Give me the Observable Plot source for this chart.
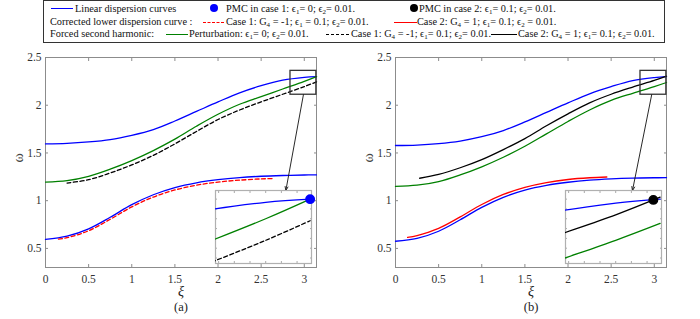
<!DOCTYPE html>
<html><head><meta charset="utf-8">
<script src="https://cdn.jsdelivr.net/npm/d3@7"></script>
<script src="https://cdn.jsdelivr.net/npm/@observablehq/plot@0.6"></script>
<style>
body{margin:0;background:#fff;font-family:"Liberation Serif","Times New Roman",serif;}
#root{position:relative;width:700px;height:319px;overflow:hidden;background:#fff}
#legend{position:absolute;left:43px;top:0px;width:620px;height:41px;border:1.4px solid #333;box-sizing:content-box}
.t{position:absolute;white-space:nowrap;font-size:10.3px;line-height:11px;height:11px;color:#111}
.t sub{font-size:7px;line-height:0;vertical-align:-2px}
.sw{position:absolute;height:0}
.dot{position:absolute;width:8px;height:8px;border-radius:50%}
.panel{position:absolute;top:47px;width:350px;height:272px}
.inset{position:absolute}
</style></head><body>
<div id="root">
  <div id="legend">
    <span class="sw" style="left:7px;top:7px;width:22px;border-top:1.4px solid #0000ff"></span>
    <span class="t" style="left:31px;top:2px">Linear dispersion curves</span>
    <span class="dot" style="left:166px;top:3px;background:#0000ff"></span>
    <span class="t" style="left:182px;top:2px">PMC in case 1: ϵ<sub>1</sub>= 0; ϵ<sub>2</sub>= 0.01.</span>
    <span class="dot" style="left:366px;top:3px;background:#000"></span>
    <span class="t" style="left:375px;top:2px">PMC in case 2: ϵ<sub>1</sub>= 0.1; ϵ<sub>2</sub>= 0.01.</span>

    <span class="t" style="left:6px;top:15px">Corrected lower dispersion curve :</span>
    <span class="sw" style="left:159px;top:21px;width:21px;border-top:1.4px dashed #ff0000"></span>
    <span class="t" style="left:182px;top:15px">Case 1: G<sub>4</sub> = -1; ϵ<sub>1</sub> = 0.1; ϵ<sub>2</sub>= 0.01.</span>
    <span class="sw" style="left:350px;top:21px;width:23px;border-top:1.4px solid #ff0000"></span>
    <span class="t" style="left:373px;top:15px">Case 2: G<sub>4</sub> = 1; ϵ<sub>1</sub>= 0.1; ϵ<sub>2</sub> = 0.01.</span>

    <span class="t" style="left:6px;top:27px">Forced second harmonic:</span>
    <span class="sw" style="left:122px;top:33px;width:22px;border-top:1.4px solid #008000"></span>
    <span class="t" style="left:145px;top:27px">Perturbation: ϵ<sub>1</sub>= 0; ϵ<sub>2</sub>= 0.01.</span>
    <span class="sw" style="left:282px;top:33px;width:23px;border-top:1.4px dashed #000"></span>
    <span class="t" style="left:307px;top:27px">Case 1: G<sub>4</sub> = -1; ϵ<sub>1</sub>= 0.1; ϵ<sub>2</sub>= 0.01.</span>
    <span class="sw" style="left:447px;top:33px;width:26px;border-top:1.4px solid #000"></span>
    <span class="t" style="left:474px;top:27px">Case 2: G<sub>4</sub> = 1; ϵ<sub>1</sub>= 0.1; ϵ<sub>2</sub>= 0.01.</span>
  </div>
  <div id="pa" class="panel" style="left:0px"></div>
  <div id="pb" class="panel" style="left:350px"></div>
</div>
<script>
// ---------- data ----------
const xi = [0, 0.25, 0.5, 0.75, 1.0, 1.25, 1.5, 1.75, 2.0, 2.25, 2.5, 2.75, 3.0, 3.1416];
const xTicks = [0, 0.5, 1, 1.5, 2, 2.5, 3];
const yTicks = [0.5, 1, 1.5, 2, 2.5];
const xDomain = [0, 3.1416];
const yDomain = [0.3, 2.5];

// panel (a)
const aUpper = [1.595, 1.600, 1.615, 1.640, 1.685, 1.745, 1.835, 1.935, 2.035, 2.130, 2.205, 2.262, 2.292, 2.300];
const aLower = [0.595, 0.628, 0.705, 0.826, 0.958, 1.062, 1.137, 1.187, 1.220, 1.242, 1.256, 1.264, 1.269, 1.270];
const aGreen = [1.195, 1.210, 1.255, 1.330, 1.420, 1.525, 1.645, 1.780, 1.905, 2.010, 2.090, 2.170, 2.250, 2.300];
const aRedXi = [0.15, 0.25, 0.5, 0.75, 1.0, 1.25, 1.5, 1.75, 2.0, 2.25, 2.5, 2.65];
const aRed   = [0.598, 0.612, 0.685, 0.805, 0.935, 1.038, 1.112, 1.162, 1.195, 1.215, 1.228, 1.232];
const aBlackXi = [0.25, 0.5, 0.75, 1.0, 1.25, 1.5, 1.75, 2.0, 2.25, 2.5, 2.75, 3.0, 3.1416];
const aBlack   = [1.185, 1.220, 1.290, 1.375, 1.475, 1.595, 1.725, 1.850, 1.950, 2.035, 2.115, 2.195, 2.245];
const aPmc = [3.1416, 2.300];

// panel (b)
const bUpper = [1.578, 1.583, 1.598, 1.625, 1.670, 1.735, 1.825, 1.925, 2.025, 2.120, 2.195, 2.258, 2.290, 2.300];
const bLower = [0.575, 0.605, 0.680, 0.800, 0.930, 1.035, 1.110, 1.160, 1.193, 1.215, 1.228, 1.236, 1.240, 1.241];
const bGreen = [1.150, 1.162, 1.200, 1.270, 1.355, 1.455, 1.570, 1.700, 1.830, 1.950, 2.050, 2.125, 2.195, 2.238];
const bRedXi = [0.14, 0.25, 0.5, 0.75, 1.0, 1.25, 1.5, 1.75, 2.0, 2.25, 2.45];
const bRed   = [0.615, 0.635, 0.710, 0.830, 0.960, 1.065, 1.140, 1.190, 1.222, 1.240, 1.248];
const bBlackXi = [0.28, 0.5, 0.75, 1.0, 1.25, 1.5, 1.75, 2.0, 2.25, 2.5, 2.75, 3.0, 3.1416];
const bBlack   = [1.235, 1.275, 1.345, 1.430, 1.535, 1.650, 1.785, 1.910, 2.025, 2.115, 2.190, 2.260, 2.305];
const bPmc = [3.12, 2.298];

// zoom annotation (data coordinates)
const zoomXi = [2.84, 3.14];
const zoomW = [2.11, 2.36];
const insetXi = [2.84, 3.146];
const insetW = [2.136, 2.322];
const insetBoxXi = [1.965, 3.08];
const insetBoxW = [0.34, 1.105];
const arrowXiA = [2.99, 2.786];
const arrowXiB = [2.97, 2.747];
const insetXTicks = [2.85, 2.9, 2.95, 3.0, 3.05, 3.1];
const insetYTicks = [2.15, 2.175, 2.2, 2.225, 2.25, 2.275, 2.3];

// ---------- drawing ----------
const BLUE = "#0000ff", GREEN = "#008000", RED = "#ff0000", BLACK = "#000000", AXIS = "#8c8c8c";
const FONT = '"Liberation Serif", "Times New Roman", serif';
const fmt = d => d3.format("~g")(d);
const pts = (xs, ys) => xs.map((x, i) => ({x, y: ys[i]}));

function panel(el, tag, d) {
  const series = [
    {data: pts(xi, d.upper), stroke: BLUE},
    {data: pts(xi, d.lower), stroke: BLUE},
    {data: pts(xi, d.green), stroke: GREEN},
    {data: pts(d.redXi, d.red), stroke: RED, dash: d.redDash},
    {data: pts(d.blackXi, d.black), stroke: BLACK, dash: d.blackDash}
  ];
  const lineMarks = (clip) => series.map(s => Plot.line(s.data, {
    x: "x", y: "y", stroke: s.stroke, strokeWidth: 1.3, curve: "catmull-rom",
    strokeDasharray: s.dash ? "4,2.5" : null, clip
  }));
  const plot = Plot.plot({
    width: 350, height: 272,
    marginTop: 10, marginBottom: 52, marginLeft: 45, marginRight: 34,
    style: {fontFamily: FONT, fontSize: "11.5px", color: "#333", background: "transparent", overflow: "visible"},
    x: {domain: xDomain, label: null},
    y: {domain: yDomain, label: null},
    marks: [
      Plot.axisX({anchor: "bottom", ticks: xTicks, tickSize: 0, tickPadding: 7, tickFormat: fmt, label: null, fontFamily: FONT}),
      Plot.axisY({anchor: "left", ticks: yTicks, tickSize: 0, tickPadding: 4, tickFormat: fmt, label: null, fontFamily: FONT}),
      Plot.axisX({anchor: "bottom", ticks: xTicks, tickSize: -3, stroke: AXIS, fill: "none", tickFormat: () => "", label: null}),
      Plot.axisX({anchor: "top", ticks: xTicks, tickSize: -3, stroke: AXIS, fill: "none", tickFormat: () => "", label: null}),
      Plot.axisY({anchor: "left", ticks: yTicks, tickSize: -3, stroke: AXIS, fill: "none", tickFormat: () => "", label: null}),
      Plot.axisY({anchor: "right", ticks: yTicks, tickSize: -3, stroke: AXIS, fill: "none", tickFormat: () => "", label: null}),
      Plot.frame({stroke: AXIS, strokeWidth: 1}),
      ...lineMarks(false),
      Plot.rect([0], {x1: () => zoomXi[0], x2: () => zoomXi[1], y1: () => zoomW[0], y2: () => zoomW[1], fill: "none", stroke: "#333", strokeWidth: 1.3}),
      Plot.arrow([0], {x1: () => d.arrowXi[0], y1: () => zoomW[0], x2: () => d.arrowXi[1], y2: () => insetBoxW[1], stroke: "#111", strokeWidth: 0.9, headLength: 7, headAngle: 40}),
      Plot.text(["ξ"], {frameAnchor: "bottom", dy: 28, fontSize: 14, fill: "#222", fontStyle: "italic", fontFamily: FONT}),
      Plot.text([tag], {frameAnchor: "bottom", dy: 43, fontSize: 12.5, fill: "#222", fontFamily: FONT}),
      Plot.text(["ω"], {frameAnchor: "left", dx: -27, rotate: -90, fontSize: 14, fill: "#444", fontFamily: FONT})
    ]
  });
  el.appendChild(plot);

  const sx = plot.scale("x"), sy = plot.scale("y");
  const left = sx.apply(insetBoxXi[0]), right = sx.apply(insetBoxXi[1]);
  const top = sy.apply(insetBoxW[1]), bottom = sy.apply(insetBoxW[0]);
  const w = Math.round(right - left), h = Math.round(bottom - top);
  const inset = Plot.plot({
    width: w, height: h, margin: 0,
    style: {background: "#fff", overflow: "visible"},
    x: {domain: insetXi, label: null},
    y: {domain: insetW, label: null},
    marks: [
      Plot.axisX({anchor: "top", ticks: insetXTicks, tickSize: -2, stroke: "#aaa", fill: "none", tickFormat: () => "", label: null}),
      Plot.axisX({anchor: "bottom", ticks: insetXTicks, tickSize: -2, stroke: "#aaa", fill: "none", tickFormat: () => "", label: null}),
      Plot.axisY({anchor: "left", ticks: insetYTicks, tickSize: -2, stroke: "#aaa", fill: "none", tickFormat: () => "", label: null}),
      Plot.axisY({anchor: "right", ticks: insetYTicks, tickSize: -2, stroke: "#aaa", fill: "none", tickFormat: () => "", label: null}),
      Plot.frame({stroke: "#b0b0b0", strokeWidth: 1.2}),
      ...lineMarks(true),
      Plot.dot([d.pmc], {x: p => p[0], y: p => p[1], r: 4.2, fill: d.pmcColor, stroke: d.pmcColor})
    ]
  });
  inset.classList.add("inset");
  inset.style.left = left + "px";
  inset.style.top = top + "px";
  el.appendChild(inset);
}

panel(document.getElementById("pa"), "(a)", {
  upper: aUpper, lower: aLower, green: aGreen, redXi: aRedXi, red: aRed, redDash: true,
  blackXi: aBlackXi, black: aBlack, blackDash: true, pmc: aPmc, pmcColor: BLUE, arrowXi: arrowXiA
});
panel(document.getElementById("pb"), "(b)", {
  upper: bUpper, lower: bLower, green: bGreen, redXi: bRedXi, red: bRed, redDash: false,
  blackXi: bBlackXi, black: bBlack, blackDash: false, pmc: bPmc, pmcColor: BLACK, arrowXi: arrowXiB
});
</script>
</body></html>
